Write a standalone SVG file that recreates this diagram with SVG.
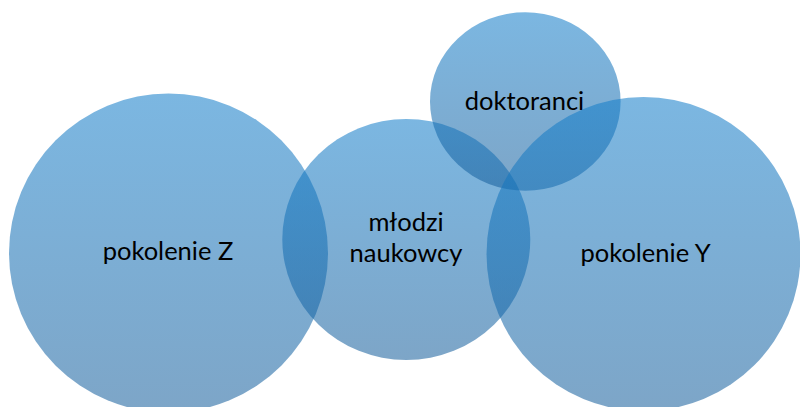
<svg xmlns="http://www.w3.org/2000/svg" width="800" height="407" viewBox="0 0 800 407">
<defs>
<linearGradient id="g" x1="0" y1="0" x2="0" y2="1">
<stop offset="0" stop-color="rgb(20,126,202)"/>
<stop offset="1" stop-color="rgb(23,95,156)"/>
</linearGradient>
<style>
.c{fill:url(#g);fill-opacity:0.56}
.t{font-family:Lato,"Open Sans",sans-serif;font-size:25.5px;fill:#000;text-anchor:middle}
</style>
</defs>
<rect width="800" height="407" fill="#fff"/>
<g id="pokolenie-z">
<circle class="c" cx="168.5" cy="253" r="159.5"/>
<text class="t" x="168" y="260">pokolenie Z</text>
</g>
<g id="mlodzi-naukowcy">
<ellipse class="c" cx="406.3" cy="239.5" rx="124" ry="120.5"/>
<text class="t" x="406" y="231">młodzi</text>
<text class="t" x="406" y="262">naukowcy</text>
</g>
<g id="doktoranci">
<ellipse class="c" cx="525.3" cy="101.5" rx="95.3" ry="89.2"/>
<text class="t" x="524.5" y="110">doktoranci</text>
</g>
<g id="pokolenie-y">
<circle class="c" cx="643.5" cy="254" r="157"/>
<text class="t" x="645.5" y="261.5">pokolenie Y</text>
</g>
<g id="connectors"/>
</svg>
